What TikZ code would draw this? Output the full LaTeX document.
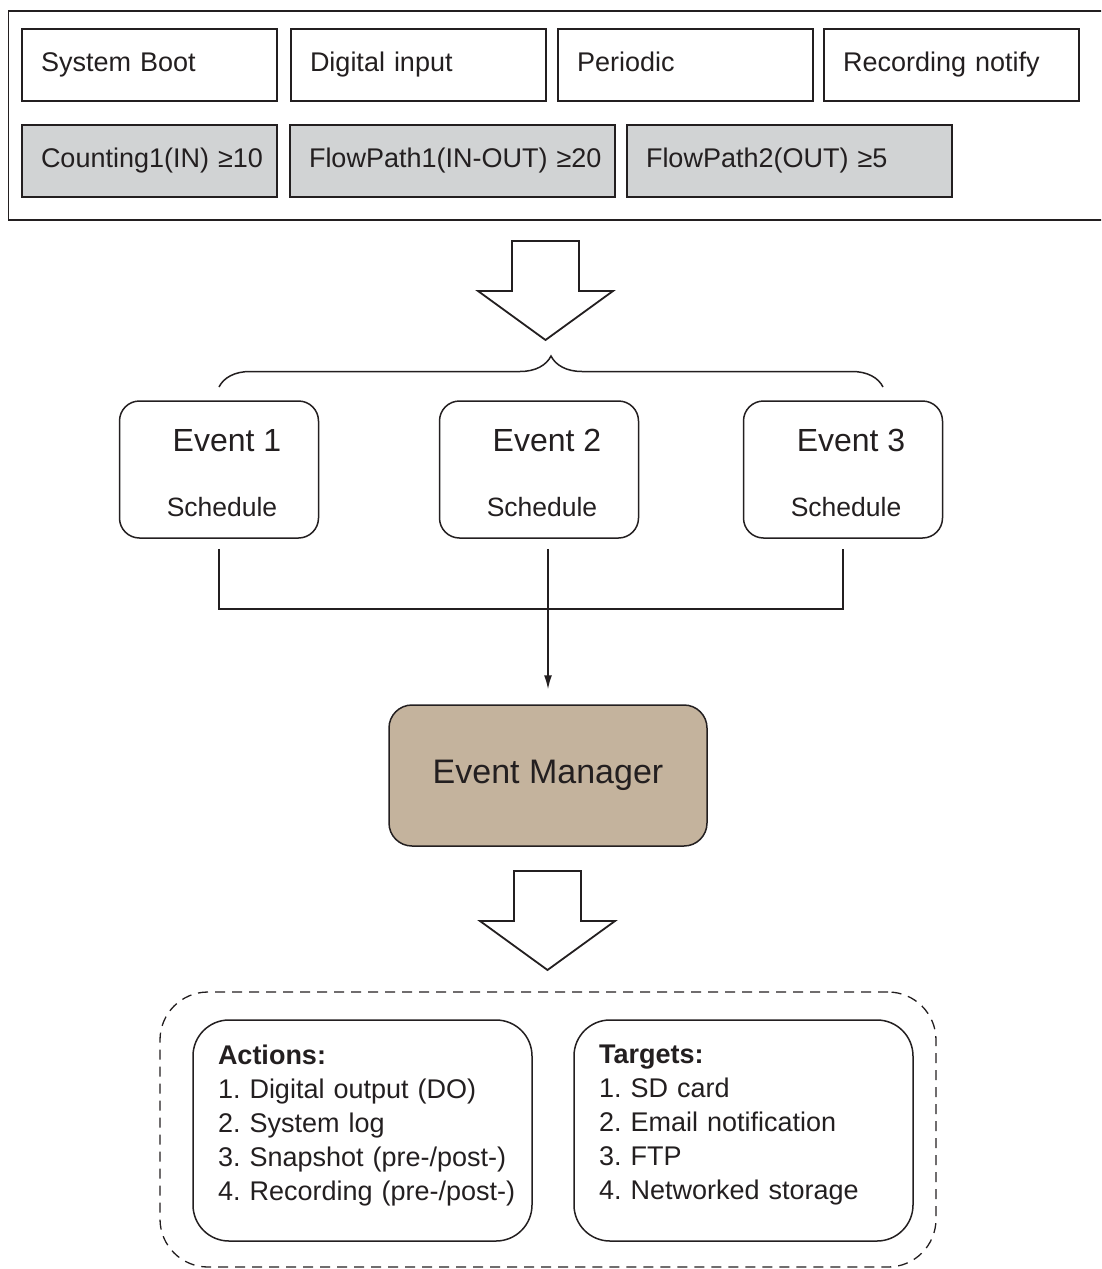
\documentclass[tikz,border=0pt]{standalone}
\usepackage{fontspec}
\setmainfont{Liberation Sans}
\usetikzlibrary{arrows.meta, positioning, calc, decorations.pathreplacing}
\definecolor{ink}{RGB}{35,31,32}
\definecolor{condgray}{RGB}{209,211,212}
\definecolor{mgrtan}{RGB}{196,179,157}
\frenchspacing

\begin{document}
\begin{tikzpicture}[x=1pt, y=-1pt, >={Latex[length=14pt, width=8pt]}, color=ink,
  line width=1.5pt, font=\fontsize{27}{34}\selectfont,
  frame/.style={draw, minimum width=1100pt, minimum height=209pt, inner sep=0pt},
  trigger/.style={draw, fill=white, text width=255pt, minimum height=72pt,
                  text depth=6pt, inner sep=0pt, align=left,
                  execute at begin node={\leftskip=19pt}},
  wide/.style={text width=325pt},
  cond/.style={trigger, fill=condgray},
  event/.style={draw, rounded corners=20pt, minimum width=199pt, minimum height=137pt},
  evtitle/.style={font=\fontsize{32}{38}\selectfont, anchor=base, inner sep=0pt},
  evsub/.style={font=\fontsize{26.5}{32}\selectfont, anchor=base, inner sep=0pt},
  manager/.style={draw, fill=mgrtan, rounded corners=23pt, minimum width=318pt,
                  minimum height=141pt, font=\fontsize{34}{40}\selectfont},
  group/.style={draw, dash pattern=on 10pt off 7pt, rounded corners=48pt,
                minimum width=776pt, minimum height=275pt, line width=1.3pt},
  list/.style={draw, rounded corners=36pt, text width=339pt, minimum height=221pt,
               inner sep=0pt, align=left, text depth=152pt,
               execute at begin node={\leftskip=25pt}},
  link/.style={line width=1.5pt, shorten <=10pt},
  hollow/.style={draw, fill=white, line width=1.8pt, line join=miter},
  brace/.style={decorate, decoration={brace, amplitude=31pt}}]

  \clip (0,0) rectangle (1101,1269);

  % trigger sources
  \node[frame, anchor=north west] (trig) at (7.5,10) {};
  \node[trigger] (boot) at (149.5,65) {System Boot};
  \node[trigger] (din)  at (418.5,65) {Digital input};
  \node[trigger] (per)  at (685.5,65) {Periodic};
  \node[trigger] (rec)  at (951.5,65) {Recording notify};
  \node[cond]       (cnt) at (149.5,161) {Counting1(IN) ≥10};
  \node[cond, wide] (fp1) at (452.5,161) {FlowPath1(IN-OUT) ≥20};
  \node[cond, wide] (fp2) at (789.5,161) {FlowPath2(OUT) ≥5};

  % big hollow arrows
  \coordinate (a1) at (545.5,241);
  \coordinate (a2) at (547.5,871);
  \foreach \a in {a1,a2}
    \draw[hollow] (\a) ++(-33.5,0) -- ++(67,0) -- ++(0,50) -- ++(34,0)
      -- ++(-67.5,49) -- ++(-67.5,-49) -- ++(34,0) -- cycle;

  \draw[brace] (219,387) -- (883,387);

  % events
  \foreach \i/\x in {1/219,2/539,3/843} {
    \node[event] (ev\i) at (\x,469.5) {};
    \node[evtitle] (evt\i) at ($(ev\i.north)+(8,51)$) {Event \i};
    \node[evsub]   (evs\i) at ($(ev\i.south)+(3,-22)$) {Schedule};
  }

  \node[manager] (mgr) at (548,775.5) {Event Manager};

  \coordinate (join) at (548,609);
  \draw[link, shorten >=10pt] (ev1.south) |- (join) -| (ev3.south);
  \draw[link, ->, shorten >=15pt] (ev2.south -| mgr.north) -- (mgr.north);

  % actions and targets
  \node[group] (grp) at (548,1129.5) {};
  \node[list] (act) at (362.5,1130.5) {\textbf{Actions:}\\1. Digital output (DO)\\2. System log\\3. Snapshot (pre-/post-)\\4. Recording (pre-/post-)};
  \node[list] (tgt) at (743.5,1130.5) {\textbf{Targets:}\\1. SD card\\2. Email notification\\3. FTP\\4. Networked storage};
\end{tikzpicture}
\end{document}
